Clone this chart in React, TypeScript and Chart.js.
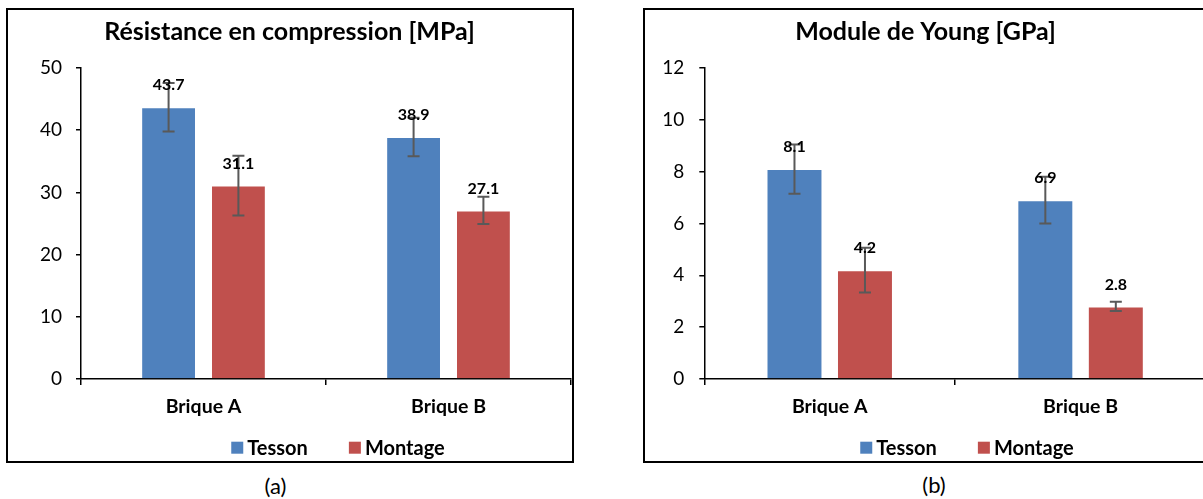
import React, { useEffect, useRef } from 'react';
import { Chart, registerables } from 'chart.js';

Chart.register(...registerables);

// ---- Data ----
const categories = ['Brique A', 'Brique B'];
const seriesNames = ['Tesson', 'Montage'];
const seriesColors = ['#4F81BD', '#C0504D'];

const tessonMPa = [43.7, 38.9];
const montageMPa = [31.1, 27.1];
const tessonMPaErr = [3.9, 3.1];
const montageMPaErr = [4.8, 2.2];
const mpaTicks = [0, 10, 20, 30, 40, 50];

const tessonGPa = [8.1, 6.9];
const montageGPa = [4.2, 2.8];
const tessonGPaErr = [0.95, 0.9];
const montageGPaErr = [0.86, 0.18];
const gpaTicks = [0, 2, 4, 6, 8, 10, 12];

const titleA = 'Résistance en compression [MPa]';
const titleB = 'Module de Young [GPa]';

const FONT = "Lato, 'Open Sans', sans-serif";

const extrasPlugin = {
  id: 'barExtras',
  afterDatasetsDraw(chart: any, _args: any, opts: any) {
    const ctx = chart.ctx;
    const yScale = chart.scales.y;
    ctx.save();
    chart.data.datasets.forEach((ds: any, i: number) => {
      const meta = chart.getDatasetMeta(i);
      meta.data.forEach((el: any, j: number) => {
        const v = ds.data[j];
        const e = ds.errors[j];
        const x = el.x;
        const yT = yScale.getPixelForValue(v + e);
        const yB = yScale.getPixelForValue(v - e);
        ctx.strokeStyle = '#595959';
        ctx.lineWidth = 2;
        ctx.beginPath();
        ctx.moveTo(x, yT);
        ctx.lineTo(x, yB);
        ctx.moveTo(x - 6, yT);
        ctx.lineTo(x + 6, yT);
        ctx.moveTo(x - 6, yB);
        ctx.lineTo(x + 6, yB);
        ctx.stroke();
      });
    });
    chart.data.datasets.forEach((ds: any, i: number) => {
      const meta = chart.getDatasetMeta(i);
      meta.data.forEach((el: any, j: number) => {
        const v = ds.data[j];
        ctx.fillStyle = '#000';
        ctx.font = `bold 16px ${FONT}`;
        ctx.textAlign = 'center';
        ctx.textBaseline = 'middle';
        ctx.fillText(v.toFixed(1), el.x, el.y - 22);
      });
    });
    // legend
    const sq = 12;
    const gapText = 4;
    const gapItem = 41;
    ctx.font = `bold 20px ${FONT}`;
    const widths = chart.data.datasets.map((ds: any) => sq + gapText + ctx.measureText(ds.label).width);
    const total = widths.reduce((a: number, b: number) => a + b, 0) + gapItem * (widths.length - 1);
    let x = opts.legendCenter - total / 2;
    const y = opts.legendY;
    chart.data.datasets.forEach((ds: any, i: number) => {
      ctx.fillStyle = ds.backgroundColor;
      ctx.fillRect(x, y - sq / 2, sq, sq);
      ctx.fillStyle = '#000';
      ctx.textAlign = 'left';
      ctx.textBaseline = 'middle';
      ctx.fillText(ds.label, x + sq + gapText, y + 1);
      x += widths[i] + gapItem;
    });
    ctx.restore();
  },
};

type PanelProps = {
  title: string;
  tesson: number[];
  montage: number[];
  tessonErr: number[];
  montageErr: number[];
  ticks: number[];
  yWidth: number;
  yPad: number;
  catPct: number;
  barPct: number;
  rightPad: number;
  legendCenter: number;
};

function Panel(p: PanelProps) {
  const ref = useRef<HTMLCanvasElement | null>(null);
  useEffect(() => {
    if (!ref.current) return;
    const chart = new Chart(ref.current, {
      type: 'bar',
      data: {
        labels: categories,
        datasets: [
          {
            label: seriesNames[0],
            data: p.tesson,
            errors: p.tessonErr,
            backgroundColor: seriesColors[0],
            borderColor: 'rgba(255,255,255,0.3)',
            borderWidth: 1,
            categoryPercentage: p.catPct,
            barPercentage: p.barPct,
          } as any,
          {
            label: seriesNames[1],
            data: p.montage,
            errors: p.montageErr,
            backgroundColor: seriesColors[1],
            borderColor: 'rgba(255,255,255,0.3)',
            borderWidth: 1,
            categoryPercentage: p.catPct,
            barPercentage: p.barPct,
          } as any,
        ],
      },
      options: {
        responsive: false,
        animation: false,
        layout: { padding: { left: 0, right: p.rightPad, top: 0, bottom: 0 } },
        plugins: {
          legend: { display: false },
          tooltip: { enabled: false },
          title: {
            display: true,
            text: p.title,
            color: '#000',
            font: { family: FONT, size: 25, weight: 'bold', lineHeight: 1.2 },
            padding: { top: 7, bottom: 21 },
          },
          barExtras: { legendCenter: p.legendCenter, legendY: 437.7 },
        } as any,
        scales: {
          x: {
            grid: {
              display: true,
              drawOnChartArea: false,
              drawTicks: true,
              tickLength: 6,
              color: '#000',
              lineWidth: 1.5,
              offset: true,
            },
            border: { display: true, color: '#000', width: 1.5 },
            ticks: {
              color: '#000',
              font: { family: FONT, size: 19.5, weight: 'bold', lineHeight: 1.2 },
              padding: 10,
              maxRotation: 0,
            },
            afterFit: (s: any) => {
              s.height = 82;
            },
          },
          y: {
            min: p.ticks[0],
            max: p.ticks[p.ticks.length - 1],
            ticks: {
              stepSize: p.ticks[1] - p.ticks[0],
              color: '#000',
              font: { family: FONT, size: 19 },
              padding: p.yPad,
            },
            grid: { drawOnChartArea: false, tickLength: 5, color: '#000', lineWidth: 1.5 },
            border: { color: '#000', width: 1.5 },
            afterFit: (s: any) => {
              s.width = p.yWidth;
            },
          },
        },
      } as any,
      plugins: [extrasPlugin],
    });
    return () => chart.destroy();
  }, []);
  return <canvas ref={ref} width={564} height={451} style={{ width: 564, height: 451, display: 'block' }} />;
}

export default function App() {
  return (
    <div
      style={{
        position: 'fixed',
        left: 0,
        top: 0,
        width: 1203,
        height: 499,
        overflow: 'hidden',
        background: '#fff',
        fontFamily: FONT,
      }}
    >
      <div
        style={{
          position: 'absolute',
          left: 6,
          top: 8,
          width: 568,
          height: 455,
          border: '2px solid #000',
          boxSizing: 'border-box',
        }}
      >
        <Panel
          title={titleA}
          tesson={tessonMPa}
          montage={montageMPa}
          tessonErr={tessonMPaErr}
          montageErr={montageMPaErr}
          ticks={mpaTicks}
          yWidth={73}
          yPad={14}
          catPct={0.57}
          barPct={0.785}
          rightPad={1}
          legendCenter={330}
        />
      </div>
      <div
        style={{
          position: 'absolute',
          left: 643,
          top: 8,
          width: 568,
          height: 455,
          border: '2px solid #000',
          boxSizing: 'border-box',
        }}
      >
        <Panel
          title={titleB}
          tesson={tessonGPa}
          montage={montageGPa}
          tessonErr={tessonGPaErr}
          montageErr={montageGPaErr}
          ticks={gpaTicks}
          yWidth={59.3}
          yPad={15}
          catPct={0.562}
          barPct={0.794}
          rightPad={3}
          legendCenter={322}
        />
      </div>
      <div
        style={{
          position: 'absolute',
          left: 245.5,
          width: 60,
          top: 473,
          lineHeight: '26px',
          fontSize: 22,
          textAlign: 'center',
          color: '#000',
        }}
      >
        (a)
      </div>
      <div
        style={{
          position: 'absolute',
          left: 904,
          width: 60,
          top: 472,
          lineHeight: '26px',
          fontSize: 22,
          textAlign: 'center',
          color: '#000',
        }}
      >
        (b)
      </div>
    </div>
  );
}
